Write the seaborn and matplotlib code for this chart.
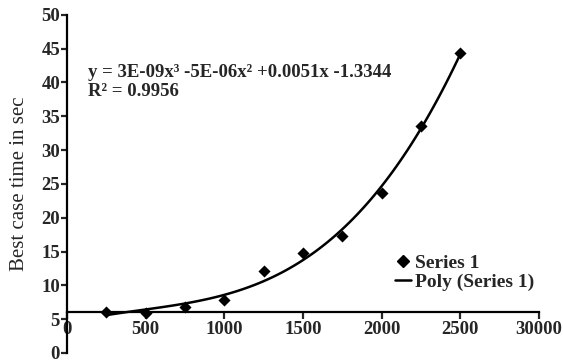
import numpy as np
import pandas as pd
import matplotlib
matplotlib.use("Agg")
import matplotlib.pyplot as plt
from matplotlib.lines import Line2D
import seaborn as sns

# data
input_size = [250, 500, 750, 1000, 1250, 1500, 1750, 2000, 2250, 2500]
best_time = [6.1, 5.9, 6.8, 7.9, 12.1, 14.8, 17.3, 23.7, 33.6, 44.3]
x_ticks = [0, 500, 1000, 1500, 2000, 2500, 3000]
x_tick_labels = ["0", "500", "1000", "1500", "2000", "2500", "30000"]
y_ticks = [0, 5, 10, 15, 20, 25, 30, 35, 40, 45, 50]
equation = "y = 3E-09x³ -5E-06x² +0.0051x -1.3344\nR² = 0.9956"

sns.set_style("white")
plt.rcParams["font.family"] = ["Liberation Serif", "DejaVu Serif"]
plt.rcParams["font.weight"] = "bold"

df = pd.DataFrame({"n": input_size, "t": best_time})

fig = plt.figure(figsize=(5.63, 3.62), dpi=100)
ax = fig.add_axes([0.119, 0.025, 0.838, 0.934])

sns.regplot(data=df, x="n", y="t", order=3, ci=None, ax=ax,
            marker="D", color="black",
            scatter_kws={"s": 38, "zorder": 3, "linewidths": 0, "alpha": 1},
            line_kws={"lw": 1.8})

# spine position first: it resets the tick objects
for s in ["top", "right"]:
    ax.spines[s].set_visible(False)
ax.spines["bottom"].set_position(("data", 6))
for s in ["left", "bottom"]:
    ax.spines[s].set_linewidth(1.6)
    ax.spines[s].set_color("black")

ax.set_xlim(0, 3000)
ax.set_ylim(0, 50)
ax.set_xticks(x_ticks)
ax.set_xticklabels(x_tick_labels)
ax.set_yticks(y_ticks)
ax.tick_params(axis="x", direction="out", length=5, width=1.6, pad=1,
               bottom=True, labelsize=13.5)
ax.tick_params(axis="y", direction="out", length=4, width=1.6, pad=1,
               left=True, labelsize=13.5)

ax.set_xlabel("")
ax.set_ylabel("Best case time in sec", fontsize=15, labelpad=9)

ax.text(0.045, 0.855, equation, transform=ax.transAxes, fontsize=13.5,
        fontweight="bold", va="top", ha="left", linespacing=1.2)

handles = [
    Line2D([], [], marker="D", color="black", linestyle="none", markersize=6),
    Line2D([], [], color="black", lw=1.8),
]
ax.legend(handles, ["Series 1", "Poly (Series 1)"], loc="upper left",
          bbox_to_anchor=(0.675, 0.32), frameon=False,
          prop={"size": 14, "weight": "bold"}, handlelength=0.8,
          handletextpad=0.2, borderpad=0, labelspacing=0.05)

fig.savefig("out.png", dpi=100)
